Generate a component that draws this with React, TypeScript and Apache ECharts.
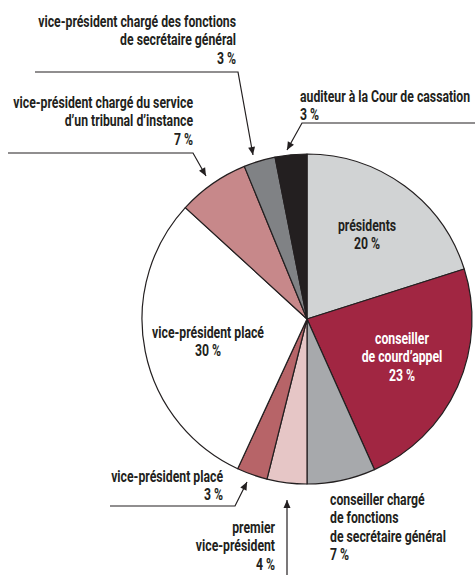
import React, { useEffect, useRef } from 'react';
import * as echarts from 'echarts';

const categories = [
  'présidents',
  'conseiller de cour d’appel',
  'conseiller chargé de fonctions de secrétaire général',
  'premier vice-président',
  'vice-président placé (3 %)',
  'vice-président placé',
  'vice-président chargé du service d’un tribunal d’instance',
  'vice-président chargé des fonctions de secrétaire général',
  'auditeur à la Cour de cassation',
];
const shares = [20.1, 23.2, 6.7, 3.9, 3.0, 29.9, 7.0, 3.1, 3.1];
const labelTexts = [
  ['présidents'],
  ['conseiller', 'de courd’appel'],
  ['conseiller chargé', 'de fonctions', 'de secrétaire général'],
  ['premier', 'vice-président'],
  ['vice-président placé'],
  ['vice-président placé'],
  ['vice-président chargé du service', 'd’un tribunal d’instance'],
  ['vice-président chargé des fonctions', 'de secrétaire général'],
  ['auditeur à la Cour de cassation'],
];
const colors = ['#d1d3d4', '#a12642', '#a7a9ac', '#e6c6c6', '#b76468', '#ffffff', '#c7888a', '#808285', '#231f20'];

const INK = '#231f20';
const FONT_FAMILY = 'Roboto, Lato, sans-serif';
const FONT = `bold 17px ${FONT_FAMILY}`;
const CX = 307, CY = 319, R = 165;
const LH = 18.5;

function condenseScale() {
  try {
    const c = document.createElement('canvas').getContext('2d');
    if (!c) return 0.75;
    c.font = FONT;
    const w = c.measureText('vice-président placé').width;
    return w > 0 ? 112 / w : 0.75;
  } catch (e) {
    return 0.75;
  }
}

function labelString(i: number) {
  return [...labelTexts[i], `${Math.round(shares[i])} %`].join('\n');
}

function textEl(sx: number, i: number, x: number, yTop: number, align: string, fill = INK) {
  return {
    type: 'text', x, y: yTop, scaleX: sx, silent: true, z: 20,
    style: { text: labelString(i), fill, font: FONT, align, verticalAlign: 'top', lineHeight: LH },
  };
}

function leader(points: number[][]) {
  const els: any[] = [{ type: 'polyline', silent: true, z: 20, shape: { points }, style: { stroke: INK, lineWidth: 1.2, fill: null } }];
  const t = points[points.length - 1];
  const p = points[points.length - 2];
  const dx = t[0] - p[0], dy = t[1] - p[1];
  const L = Math.hypot(dx, dy);
  const ux = dx / L, uy = dy / L, nx = -uy, ny = ux;
  const len = 8, w = 3.5;
  els.push({
    type: 'polygon', silent: true, z: 20,
    shape: { points: [t, [t[0] - len * ux + w * nx, t[1] - len * uy + w * ny], [t[0] - len * ux - w * nx, t[1] - len * uy - w * ny]] },
    style: { fill: INK },
  });
  return els;
}

export default function App() {
  const ref = useRef<HTMLDivElement>(null);
  useEffect(() => {
    if (!ref.current) return;
    const chart = echarts.init(ref.current, null, { renderer: 'svg' });
    const sx = condenseScale();
    const option: any = {
      animation: false,
      backgroundColor: '#ffffff',
      series: [{
        type: 'pie', center: [CX, CY], radius: R, startAngle: 90, clockwise: true, silent: true,
        label: { show: false }, labelLine: { show: false },
        itemStyle: { borderColor: INK, borderWidth: 1.2 },
        data: shares.map((v, i) => ({ value: v, name: categories[i], itemStyle: { color: colors[i] } })),
      }],
      graphic: [
        // inside labels
        textEl(sx, 0, 367, 216, 'center'),
        textEl(sx, 1, 402, 329, 'center', '#ffffff'),
        textEl(sx, 5, 208, 323, 'center'),
        // outside labels
        textEl(sx, 7, 236, 12, 'right'),
        textEl(sx, 6, 193, 93, 'right'),
        textEl(sx, 8, 300, 87, 'left'),
        textEl(sx, 4, 223, 467, 'right'),
        textEl(sx, 3, 275, 518, 'right'),
        textEl(sx, 2, 330, 490, 'left'),
        ...leader([[35, 72], [238, 72], [253, 155]]),
        ...leader([[8, 153], [193, 153], [206, 176]]),
        ...leader([[475, 123], [302, 123], [287, 150]]),
        ...leader([[110, 506], [235, 506], [247, 482]]),
        ...leader([[287, 575], [287, 500]]),
      ],
    };
    chart.setOption(option);
    return () => chart.dispose();
  }, []);
  return <div ref={ref} style={{ position: 'fixed', left: 0, top: 0, width: 475, height: 575 }} />;
}
